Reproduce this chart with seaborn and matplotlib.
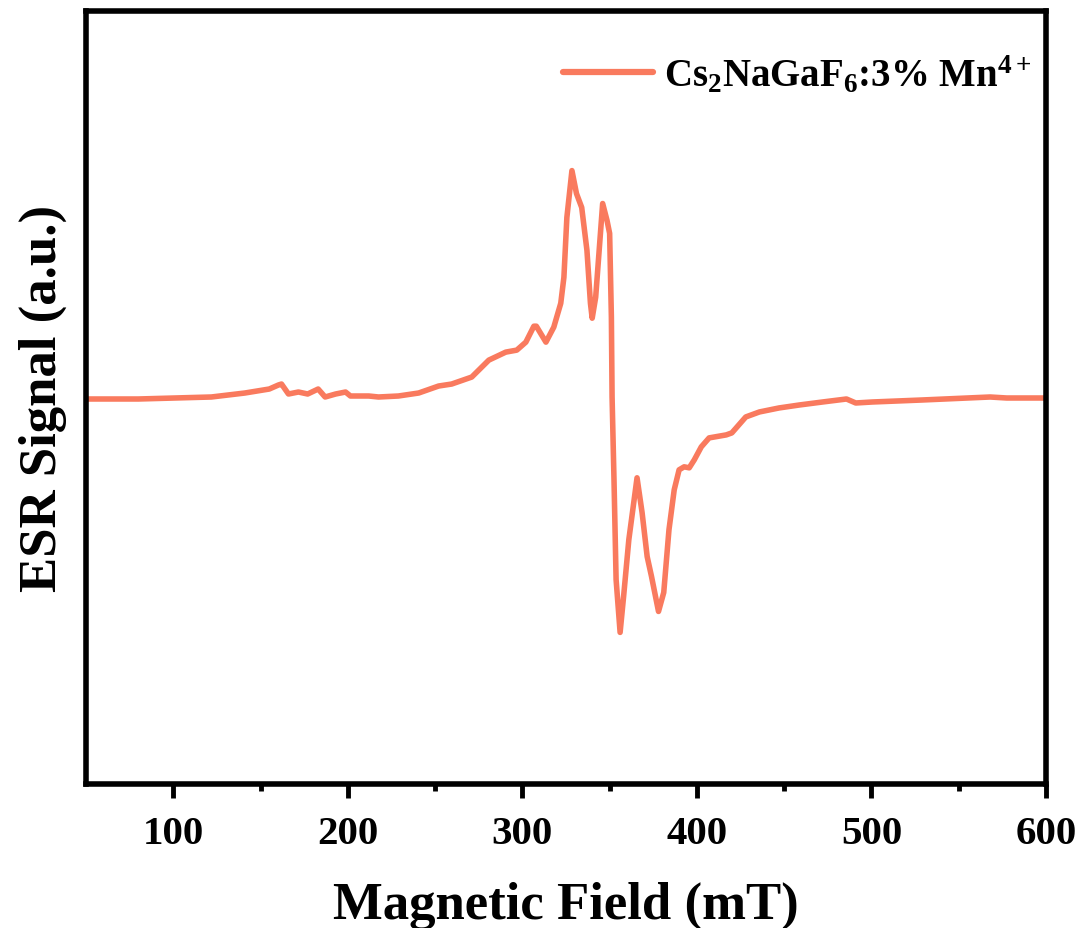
import numpy as np
import pandas as pd
import matplotlib
matplotlib.use("Agg")
import matplotlib.pyplot as plt
import seaborn as sns

# Magnetic field (mT) and ESR signal (a.u.)
field = [50, 80, 121.8, 141, 155, 160.2, 162, 166, 171.7, 177, 183, 187, 193,
         198.7, 201.5, 212, 217.6, 229, 240.6, 252, 259.5, 271, 280.8, 290.5,
         296.8, 302, 306.6, 308, 313.5, 318, 322, 323.8, 325.5, 328.4, 331,
         334, 337, 339, 340, 342, 344, 346, 348.5, 350, 351, 351.4, 352.5,
         353.7, 356, 358, 361, 365.7, 368.6, 371.5, 374, 378, 381, 384, 387,
         389.8, 392.7, 395.6, 398.5, 402.5, 407, 416.8, 420, 428, 435.8, 447,
         458.7, 472, 485.7, 491, 500.6, 529, 568, 577.5, 598, 600]
signal = [-1, -1, 1, 5, 9, 13, 14, 4, 6, 4, 9, 1, 4,
          6, 2, 2, 1, 2, 5, 12, 14, 21, 38, 46,
          48, 56, 72, 72, 56, 71, 95, 121, 181, 228, 205,
          191, 148, 95, 80, 101, 148, 195, 178, 165, 81, 1, -82,
          -182, -235, -199, -142, -80, -115, -159, -179, -214, -195, -132, -92,
          -72, -69, -70, -62, -49, -40, -37, -35, -19, -14, -10,
          -7, -4, -1, -5, -4, -2, 1, 0, 0, 0]

legend_label = r"Cs$_{2}$NaGaF$_{6}$:3% Mn$^{4+}$"
x_ticks = [100, 200, 300, 400, 500, 600]

df = pd.DataFrame({"Magnetic Field (mT)": field, "ESR Signal": signal})

sns.set_style("ticks")
plt.rcParams["font.family"] = ["Liberation Serif", "DejaVu Serif"]
plt.rcParams["font.weight"] = "bold"
plt.rcParams["text.color"] = "black"
plt.rcParams["axes.labelcolor"] = "black"
plt.rcParams["xtick.color"] = "black"
plt.rcParams["ytick.color"] = "black"
plt.rcParams["mathtext.fontset"] = "custom"
plt.rcParams["mathtext.rm"] = "Liberation Serif:bold"
plt.rcParams["mathtext.it"] = "Liberation Serif:bold"
plt.rcParams["mathtext.bf"] = "Liberation Serif:bold"
plt.rcParams["mathtext.default"] = "rm"

fig = plt.figure(figsize=(10.82, 9.29), dpi=100)
ax = fig.add_axes([86 / 1082, 1 - 785 / 929, (1046 - 86) / 1082, (785 - 12) / 929])

sns.lineplot(data=df, x="Magnetic Field (mT)", y="ESR Signal", ax=ax,
             color="#F97A5E", linewidth=4.0, label=legend_label,
             sort=False, estimator=None)
for ln in ax.get_lines():
    ln.set_solid_joinstyle("round")
    ln.set_solid_capstyle("round")

ax.set_xlim(50, 600)
ax.set_ylim(-387, 388)
ax.set_xticks(x_ticks)
ax.set_xticks([150, 250, 350, 450, 550], minor=True)
ax.set_yticks([])
ax.tick_params(axis="x", which="major", direction="out", length=10, width=3.5,
               labelsize=29.5, pad=12)
ax.tick_params(axis="x", which="minor", direction="out", length=5, width=3.5)
for lbl in ax.get_xticklabels():
    lbl.set_fontweight("bold")
for sp in ax.spines.values():
    sp.set_visible(True)
    sp.set_linewidth(4.0)
    sp.set_color("black")

ax.set_xlabel("Magnetic Field (mT)", fontsize=38, fontweight="bold", labelpad=21)
ax.set_ylabel("ESR Signal (a.u.)", fontsize=38, fontweight="bold", labelpad=14)

leg = ax.legend(loc="upper right", frameon=False, fontsize=28,
                handlelength=2.3, handletextpad=0.3,
                bbox_to_anchor=(1.022, 0.99))
for t in leg.get_texts():
    t.set_fontweight("bold")
for h in leg.get_lines():
    h.set_linewidth(4.5)
    h.set_solid_capstyle("round")

fig.savefig("out.png", dpi=100)
